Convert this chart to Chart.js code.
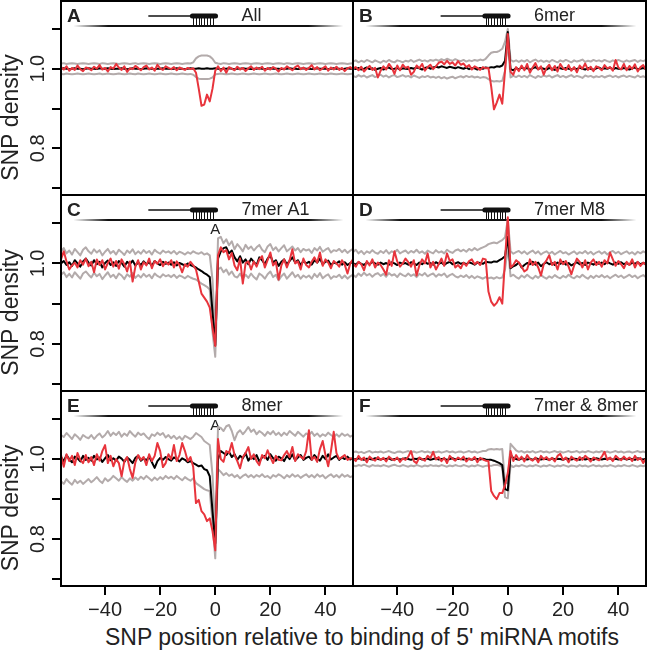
<!DOCTYPE html>
<html>
<head>
<meta charset="utf-8">
<script src="https://cdn.jsdelivr.net/npm/chart.js@4.4.1/dist/chart.umd.min.js"></script>
<style>
html, body { margin: 0; padding: 0; background: #fff; }
#wrap { position: relative; width: 648px; height: 650px; overflow: hidden; }
#wrap canvas { position: absolute; left: 0; top: 0; }
#xtitle { position: absolute; left: 76px; width: 572px; top: 623px; text-align: center;
  font: 23px "Liberation Sans", Arial, sans-serif; line-height: 28px; color: #222; white-space: nowrap; }
</style>
</head>
<body>
<div id="wrap"><div id="xtitle">SNP position relative to binding of 5' miRNA motifs</div></div>
<script>
// SNP position relative to the motif (x axis)
const positions = [-56,-55,-54,-53,-52,-51,-50,-49,-48,-47,
  -46,-45,-44,-43,-42,-41,-40,-39,-38,-37,
  -36,-35,-34,-33,-32,-31,-30,-29,-28,-27,
  -26,-25,-24,-23,-22,-21,-20,-19,-18,-17,
  -16,-15,-14,-13,-12,-11,-10,-9,-8,-7,
  -6,-5,-4,-3,-2,-1,0,1,2,3,
  4,5,6,7,8,9,10,11,12,13,
  14,15,16,17,18,19,20,21,22,23,
  24,25,26,27,28,29,30,31,32,33,
  34,35,36,37,38,39,40,41,42,43,
  44,45,46,47,48,49,50];

const panelLetters = ['A', 'B', 'C', 'D', 'E', 'F'];
const panelTitles = ['All', '6mer', '7mer A1', '7mer M8', '8mer', '7mer & 8mer'];
const yTickValues = [0.7, 0.8, 0.9, 1.0, 1.1];
const xTickValues = [-40, -20, 0, 20, 40];

// Panel A: All
const allObs = [1.004,0.998,1.006,0.995,1.002,0.997,1.008,0.999,0.994,1.003,
  1.001,0.996,1.005,1.000,1.009,0.998,1.002,0.993,1.004,1.000,
  1.012,1.003,0.997,1.006,0.992,1.001,0.999,1.007,1.002,0.996,
  1.004,1.008,0.998,1.003,0.995,1.010,1.001,0.997,1.006,1.002,
  0.999,1.004,0.996,1.003,1.000,0.997,1.002,0.999,1.001,0.990,
  0.950,0.907,0.910,0.935,0.918,0.950,0.995,1.006,0.994,1.003,
  0.990,1.004,1.000,0.996,1.005,0.998,1.002,0.994,1.001,1.006,
  0.997,1.003,0.999,1.005,0.995,1.002,0.998,1.004,1.000,0.993,
  1.002,0.998,1.006,1.001,0.996,1.004,1.008,0.999,1.003,0.997,
  1.002,1.009,0.998,1.004,0.996,1.001,1.006,0.995,1.003,0.998,
  1.005,0.997,1.002,0.994,1.001,1.004,0.998];
const allMean = [1.000,1.001,1.000,0.999,1.000,1.001,1.000,1.000,0.999,1.000,
  1.001,1.000,1.000,0.999,1.001,1.000,1.000,1.001,1.000,0.999,
  1.000,1.000,1.001,1.000,0.999,1.000,1.001,1.000,1.000,0.999,
  1.000,1.001,1.000,1.000,0.999,1.000,1.000,1.001,1.000,1.000,
  0.999,1.000,1.001,1.000,1.000,0.999,1.000,1.001,1.000,1.000,
  1.001,1.000,1.000,1.001,1.000,1.000,1.001,1.000,0.999,1.000,
  1.000,1.001,1.000,0.999,1.000,1.000,1.001,1.000,1.000,0.999,
  1.000,1.000,1.001,1.000,0.999,1.000,1.001,1.000,1.000,1.000,
  0.999,1.000,1.000,1.001,1.000,1.000,0.999,1.000,1.001,1.000,
  1.000,0.999,1.000,1.001,1.000,1.000,1.000,0.999,1.000,1.001,
  1.000,1.000,0.999,1.000,1.001,1.000,1.000];
const allUpper = [1.013,1.014,1.012,1.013,1.014,1.013,1.012,1.013,1.014,1.013,
  1.012,1.013,1.014,1.013,1.012,1.014,1.013,1.012,1.013,1.014,
  1.013,1.012,1.013,1.014,1.013,1.012,1.013,1.014,1.012,1.013,
  1.014,1.013,1.012,1.013,1.014,1.013,1.012,1.013,1.014,1.013,
  1.012,1.013,1.014,1.013,1.012,1.013,1.014,1.013,1.016,1.026,
  1.031,1.033,1.033,1.033,1.031,1.025,1.015,1.013,1.012,1.014,
  1.013,1.012,1.013,1.014,1.013,1.012,1.013,1.014,1.013,1.012,
  1.013,1.014,1.013,1.012,1.013,1.014,1.013,1.012,1.013,1.014,
  1.013,1.012,1.014,1.013,1.012,1.013,1.014,1.013,1.012,1.013,
  1.014,1.013,1.012,1.013,1.014,1.013,1.012,1.013,1.014,1.013,
  1.012,1.013,1.014,1.013,1.012,1.013,1.014];
const allLower = [0.987,0.986,0.988,0.987,0.986,0.987,0.988,0.987,0.986,0.987,
  0.988,0.987,0.986,0.987,0.988,0.986,0.987,0.988,0.987,0.986,
  0.987,0.988,0.987,0.986,0.987,0.988,0.987,0.986,0.988,0.987,
  0.986,0.987,0.988,0.987,0.986,0.987,0.988,0.987,0.986,0.987,
  0.988,0.987,0.986,0.987,0.988,0.987,0.986,0.987,0.985,0.979,
  0.975,0.974,0.974,0.974,0.975,0.978,0.986,0.987,0.988,0.987,
  0.986,0.987,0.988,0.987,0.986,0.987,0.988,0.987,0.986,0.987,
  0.988,0.987,0.986,0.987,0.988,0.987,0.986,0.987,0.988,0.987,
  0.986,0.987,0.988,0.987,0.986,0.987,0.988,0.987,0.986,0.987,
  0.988,0.987,0.986,0.987,0.988,0.987,0.986,0.987,0.988,0.987,
  0.986,0.987,0.988,0.987,0.986,0.987,0.988];

// Panel B: 6mer
const sixObs = [1.000,1.004,0.996,1.005,0.993,1.001,1.007,0.997,1.002,0.978,
  0.995,1.006,0.998,1.012,1.003,0.987,1.008,0.996,1.010,1.002,
  1.005,0.985,0.992,1.008,1.001,1.012,0.995,1.004,1.010,0.999,
  1.006,1.015,1.018,1.011,1.020,1.012,1.016,1.008,1.019,1.010,
  1.013,1.004,1.009,0.998,1.006,1.002,0.997,1.004,1.001,1.002,
  0.955,0.898,0.915,0.935,0.912,0.995,1.087,0.992,0.985,1.004,
  0.994,1.008,0.996,1.012,0.990,1.003,1.014,0.998,1.006,0.985,
  1.002,1.010,0.996,1.007,0.993,1.012,1.001,0.997,1.009,0.995,
  1.004,0.991,1.008,1.000,1.013,0.997,1.005,0.994,1.006,1.002,
  0.996,1.009,1.001,1.004,0.995,1.022,1.003,0.998,1.012,0.996,
  1.007,0.999,1.011,0.993,1.004,1.009,0.997];
const sixMean = [1.001,0.999,1.002,0.998,1.000,1.003,0.999,1.001,0.997,1.000,
  1.002,0.998,1.001,1.003,0.999,1.000,1.002,0.998,1.001,1.000,
  0.999,1.002,1.000,1.003,1.001,0.998,1.002,1.004,1.000,1.003,
  1.005,1.003,1.006,1.004,1.002,1.005,1.003,1.001,1.004,1.002,
  1.000,1.003,0.999,1.002,1.001,0.998,1.002,1.000,1.003,1.002,
  1.004,1.003,1.006,1.005,1.008,1.020,1.092,0.999,0.996,1.002,
  0.998,1.003,1.000,1.002,0.997,1.001,1.004,0.999,1.002,1.000,
  0.998,1.002,1.000,0.997,1.003,1.001,0.999,1.002,1.000,0.998,
  1.001,0.999,1.003,1.000,0.998,1.002,1.000,0.997,1.001,1.003,
  0.999,1.001,1.000,1.003,0.998,1.002,1.000,0.999,1.002,1.000,
  0.998,1.001,1.003,0.999,1.000,1.002,0.999];
const sixUpper = [1.018,1.021,1.016,1.020,1.017,1.022,1.019,1.016,1.021,1.018,
  1.015,1.020,1.017,1.022,1.018,1.016,1.021,1.019,1.016,1.020,
  1.018,1.022,1.017,1.020,1.023,1.019,1.021,1.018,1.022,1.020,
  1.023,1.020,1.024,1.021,1.025,1.022,1.020,1.024,1.021,1.019,
  1.022,1.018,1.021,1.019,1.022,1.020,1.023,1.021,1.025,1.033,
  1.040,1.042,1.042,1.045,1.050,1.068,1.100,1.022,1.018,1.021,
  1.017,1.021,1.018,1.022,1.016,1.020,1.023,1.018,1.021,1.017,
  1.020,1.017,1.022,1.019,1.016,1.021,1.018,1.022,1.019,1.016,
  1.021,1.018,1.020,1.023,1.017,1.020,1.018,1.022,1.019,1.021,
  1.018,1.022,1.019,1.017,1.021,1.018,1.022,1.019,1.017,1.021,
  1.018,1.020,1.022,1.017,1.021,1.019,1.022];
const sixLower = [0.982,0.979,0.984,0.980,0.983,0.978,0.981,0.984,0.979,0.982,
  0.985,0.980,0.983,0.978,0.982,0.984,0.979,0.981,0.984,0.980,
  0.982,0.978,0.983,0.980,0.977,0.981,0.979,0.982,0.978,0.980,
  0.977,0.980,0.976,0.979,0.975,0.978,0.980,0.976,0.979,0.981,
  0.978,0.982,0.979,0.981,0.978,0.980,0.977,0.979,0.978,0.974,
  0.970,0.968,0.969,0.968,0.970,0.995,1.070,0.978,0.982,0.979,
  0.983,0.979,0.982,0.978,0.984,0.980,0.977,0.982,0.979,0.983,
  0.980,0.983,0.978,0.981,0.984,0.979,0.982,0.978,0.981,0.984,
  0.979,0.982,0.980,0.977,0.983,0.980,0.982,0.978,0.981,0.979,
  0.982,0.978,0.981,0.983,0.979,0.982,0.978,0.981,0.983,0.979,
  0.982,0.980,0.978,0.983,0.979,0.981,0.978];

// Panel C: 7mer A1
const a1Obs = [1.010,1.030,1.005,0.985,0.995,1.002,0.990,1.008,0.997,1.012,
  0.993,1.004,0.978,1.010,0.996,1.008,0.985,1.001,1.012,0.992,
  1.006,0.987,1.010,0.998,0.980,1.005,0.955,0.992,1.008,0.985,
  1.003,0.995,1.012,0.988,1.006,0.999,1.010,0.993,1.004,0.997,
  1.008,0.990,1.005,0.996,0.978,0.998,0.992,1.004,0.995,0.985,
  0.955,0.925,0.915,0.905,0.890,0.840,0.795,1.020,1.040,1.028,
  1.033,1.010,1.026,0.995,0.983,1.012,0.950,1.000,1.005,0.985,
  1.005,0.992,1.010,1.018,0.990,1.008,1.027,0.995,1.004,0.960,
  0.995,1.010,0.990,1.008,1.035,1.000,1.005,0.985,1.012,0.996,
  0.990,1.004,1.015,1.002,1.027,0.994,1.010,1.002,0.988,1.006,
  1.000,0.992,1.008,0.997,0.975,1.000,1.010];
const a1Mean = [1.000,1.006,0.996,1.003,0.994,1.008,1.000,0.992,1.005,1.012,
  1.002,0.995,1.008,0.998,1.004,0.990,1.001,1.007,0.996,1.003,
  0.994,1.006,1.001,0.992,1.004,0.998,1.007,0.995,1.002,0.996,
  1.005,0.998,1.003,0.994,1.006,1.000,0.996,1.004,0.999,1.002,
  0.997,1.003,0.995,1.001,0.998,0.994,1.000,0.996,0.993,0.990,
  0.985,0.981,0.976,0.972,0.966,0.880,0.797,1.012,1.030,1.038,
  1.040,1.025,1.032,1.015,1.005,1.018,1.002,1.010,0.998,1.012,
  1.004,0.996,1.015,1.008,0.998,1.012,1.020,1.002,1.008,0.994,
  1.004,1.010,0.998,1.006,1.015,1.002,1.008,0.996,1.006,1.000,
  1.004,0.997,1.008,1.002,1.012,0.998,1.004,1.007,0.996,1.002,
  1.000,1.005,0.997,1.003,0.996,1.001,1.004];
const a1Upper = [1.030,1.038,1.025,1.032,1.022,1.036,1.028,1.020,1.034,1.040,
  1.030,1.024,1.035,1.027,1.033,1.020,1.029,1.036,1.025,1.031,
  1.022,1.034,1.028,1.021,1.032,1.026,1.035,1.023,1.030,1.024,
  1.033,1.026,1.031,1.022,1.034,1.028,1.024,1.032,1.027,1.030,
  1.025,1.031,1.023,1.029,1.026,1.022,1.028,1.024,1.030,1.026,
  1.024,1.028,1.022,1.025,1.020,0.960,0.820,1.062,1.066,1.050,
  1.060,1.045,1.055,1.035,1.048,1.040,1.030,1.046,1.036,1.042,
  1.032,1.040,1.046,1.034,1.028,1.042,1.048,1.033,1.040,1.030,
  1.038,1.045,1.030,1.036,1.042,1.032,1.038,1.028,1.036,1.032,
  1.035,1.026,1.038,1.032,1.041,1.029,1.034,1.038,1.027,1.033,
  1.031,1.036,1.028,1.034,1.026,1.032,1.036];
const a1Lower = [0.972,0.978,0.966,0.974,0.965,0.978,0.970,0.962,0.975,0.980,
  0.972,0.965,0.977,0.968,0.974,0.961,0.970,0.978,0.966,0.972,
  0.963,0.975,0.970,0.961,0.973,0.967,0.976,0.964,0.971,0.965,
  0.974,0.967,0.972,0.963,0.975,0.969,0.965,0.973,0.968,0.971,
  0.966,0.972,0.964,0.970,0.967,0.963,0.969,0.965,0.962,0.960,
  0.955,0.950,0.946,0.942,0.935,0.830,0.768,0.985,0.990,0.978,
  0.985,0.972,0.980,0.968,0.965,0.975,0.962,0.972,0.964,0.975,
  0.966,0.960,0.975,0.970,0.962,0.973,0.980,0.966,0.972,0.958,
  0.968,0.975,0.962,0.970,0.978,0.966,0.972,0.962,0.970,0.965,
  0.970,0.962,0.974,0.966,0.976,0.963,0.969,0.973,0.962,0.968,
  0.966,0.972,0.963,0.970,0.962,0.968,0.972];

// Panel D: 7mer M8
const m8Obs = [1.000,0.992,1.004,0.998,0.983,1.006,0.995,1.010,0.990,1.002,
  0.996,0.985,0.972,1.008,0.994,1.030,1.005,0.992,1.000,1.012,
  1.003,0.992,1.008,0.970,0.995,1.010,1.000,1.025,0.990,1.004,
  0.985,0.998,1.012,0.994,1.025,1.006,1.010,0.990,0.996,0.988,
  1.002,0.994,1.006,1.010,0.998,1.004,0.996,1.012,1.010,0.930,
  0.905,0.895,0.902,0.916,0.900,1.010,1.115,0.990,0.996,1.008,
  1.002,0.992,0.980,0.985,1.010,0.996,1.004,0.990,0.970,0.998,
  1.008,1.020,0.996,1.004,0.985,1.010,0.998,1.006,0.992,0.973,
  0.995,1.012,1.004,0.990,1.008,0.985,1.002,1.010,0.996,1.004,
  0.992,1.008,1.000,1.027,1.010,0.994,1.006,0.998,0.988,1.004,
  0.996,1.010,0.990,1.004,0.994,1.002,0.996];
const m8Mean = [1.001,0.997,1.003,0.999,0.996,1.002,0.998,1.004,1.000,0.997,
  1.002,0.998,1.001,0.997,1.003,1.000,0.996,1.002,0.999,1.001,
  0.997,1.003,1.000,0.996,1.002,0.998,1.004,0.999,1.001,0.997,
  1.003,0.999,1.002,0.996,1.001,1.004,0.998,1.000,1.003,0.999,
  1.001,0.998,1.003,1.000,0.997,1.002,1.001,0.999,1.004,1.003,
  1.002,1.005,1.004,1.008,1.012,1.018,1.066,0.988,0.993,0.996,
  1.002,0.990,0.996,1.001,0.998,1.004,0.997,1.002,0.993,0.999,
  1.003,0.998,1.001,0.996,1.002,0.999,1.004,0.997,1.001,0.995,
  0.999,1.003,0.998,1.001,0.996,1.002,1.000,0.997,1.003,0.999,
  1.002,0.998,1.004,1.000,0.997,1.002,0.999,1.003,0.998,1.001,
  0.997,1.002,0.999,1.003,0.998,1.001,0.999];
const m8Upper = [1.028,1.034,1.025,1.031,1.023,1.030,1.026,1.033,1.027,1.024,
  1.031,1.026,1.033,1.024,1.030,1.027,1.034,1.025,1.029,1.032,
  1.025,1.031,1.027,1.034,1.026,1.030,1.024,1.032,1.028,1.025,
  1.033,1.027,1.030,1.025,1.034,1.029,1.026,1.032,1.035,1.030,
  1.034,1.029,1.036,1.032,1.038,1.033,1.037,1.040,1.043,1.048,
  1.050,1.052,1.050,1.054,1.058,1.065,1.110,1.030,1.024,1.028,
  1.031,1.025,1.030,1.023,1.028,1.032,1.025,1.030,1.022,1.027,
  1.030,1.024,1.029,1.022,1.027,1.031,1.025,1.028,1.022,1.026,
  1.030,1.023,1.028,1.025,1.031,1.024,1.029,1.022,1.027,1.030,
  1.024,1.029,1.022,1.028,1.031,1.025,1.029,1.023,1.027,1.030,
  1.024,1.028,1.022,1.029,1.025,1.030,1.026];
const m8Lower = [0.972,0.966,0.975,0.969,0.977,0.970,0.974,0.967,0.973,0.976,
  0.969,0.974,0.967,0.976,0.970,0.973,0.966,0.975,0.971,0.968,
  0.975,0.969,0.973,0.966,0.974,0.970,0.976,0.968,0.972,0.975,
  0.967,0.973,0.970,0.975,0.966,0.971,0.974,0.968,0.965,0.970,
  0.966,0.971,0.964,0.969,0.963,0.968,0.965,0.962,0.966,0.963,
  0.965,0.962,0.966,0.963,0.965,0.985,1.040,0.968,0.972,0.966,
  0.962,0.970,0.965,0.972,0.966,0.962,0.969,0.964,0.971,0.966,
  0.962,0.968,0.964,0.971,0.966,0.963,0.969,0.965,0.972,0.966,
  0.963,0.969,0.965,0.972,0.966,0.962,0.969,0.964,0.970,0.966,
  0.971,0.965,0.969,0.963,0.968,0.972,0.966,0.970,0.964,0.968,
  0.972,0.966,0.970,0.963,0.968,0.971,0.966];

// Panel E: 8mer
const e8Obs = [1.010,0.981,1.012,0.995,1.008,0.985,1.015,0.998,0.990,1.010,
  0.992,1.005,0.985,1.012,0.996,1.020,1.035,0.990,1.008,0.982,
  1.000,0.990,0.957,0.995,1.005,0.975,0.953,0.992,1.010,0.998,
  1.005,0.985,1.012,0.995,1.008,1.040,1.020,0.980,0.990,1.012,
  1.000,1.035,0.995,1.010,1.040,1.020,0.995,1.005,0.980,0.890,
  0.898,0.870,0.862,0.845,0.852,0.820,0.772,1.050,1.000,0.993,
  1.020,1.015,1.040,1.010,0.995,0.977,1.005,1.015,1.030,1.000,
  1.012,0.995,0.985,1.010,1.002,1.022,1.005,0.990,1.008,0.998,
  0.997,1.010,1.020,1.005,1.030,0.995,1.012,1.006,1.000,1.020,
  1.072,0.998,1.005,0.993,1.025,1.045,1.010,0.982,1.020,1.068,
  1.015,1.000,1.005,1.010,0.998,1.002,1.000];
const e8Mean = [1.005,0.995,1.010,1.000,0.992,1.006,1.002,0.994,1.008,0.998,
  1.003,0.996,1.008,0.999,1.004,0.993,1.002,1.010,0.997,1.002,
  0.996,1.006,1.001,0.993,1.004,0.998,0.990,1.003,1.008,0.996,
  1.002,0.997,1.006,0.992,0.978,0.995,1.003,0.998,1.005,1.000,
  0.996,1.004,1.000,0.994,1.002,0.998,0.992,0.995,0.990,0.986,
  0.982,0.984,0.975,0.972,0.957,0.870,0.790,1.000,1.020,1.015,
  1.010,1.018,1.005,1.012,0.998,1.008,1.002,1.015,0.996,1.006,
  1.000,1.010,0.994,1.004,1.008,0.998,1.012,1.002,0.996,1.006,
  1.002,0.995,1.008,1.000,1.012,0.997,1.004,1.010,0.998,1.003,
  1.006,0.998,1.010,1.002,0.996,1.008,1.000,1.012,0.999,1.004,
  1.008,0.998,1.004,1.000,1.006,0.999,1.002];
const e8Upper = [1.060,1.055,1.065,1.058,1.050,1.062,1.056,1.048,1.060,1.055,
  1.052,1.060,1.050,1.058,1.064,1.054,1.060,1.070,1.058,1.066,
  1.060,1.068,1.056,1.064,1.058,1.070,1.062,1.056,1.066,1.060,
  1.064,1.056,1.050,1.062,1.058,1.066,1.060,1.065,1.054,1.060,
  1.052,1.058,1.050,1.056,1.048,1.058,1.054,1.050,1.056,1.065,
  1.060,1.055,1.045,1.040,1.035,0.960,0.820,1.080,1.078,1.070,
  1.082,1.085,1.070,1.047,1.065,1.072,1.062,1.070,1.080,1.068,
  1.074,1.062,1.070,1.065,1.058,1.068,1.062,1.070,1.060,1.066,
  1.058,1.066,1.060,1.070,1.064,1.058,1.068,1.062,1.056,1.064,
  1.060,1.068,1.058,1.064,1.056,1.062,1.058,1.066,1.060,1.055,
  1.062,1.056,1.064,1.058,1.062,1.056,1.060];
const e8Lower = [0.945,0.938,0.950,0.942,0.936,0.948,0.940,0.946,0.938,0.944,
  0.950,0.942,0.948,0.955,0.946,0.940,0.952,0.945,0.950,0.958,
  0.952,0.946,0.955,0.948,0.943,0.952,0.946,0.954,0.948,0.956,
  0.950,0.958,0.952,0.946,0.954,0.948,0.955,0.950,0.958,0.952,
  0.956,0.950,0.958,0.952,0.947,0.955,0.950,0.946,0.952,0.940,
  0.935,0.930,0.925,0.922,0.920,0.840,0.752,0.975,0.968,0.960,
  0.965,0.958,0.962,0.955,0.960,0.952,0.958,0.962,0.955,0.960,
  0.954,0.960,0.956,0.962,0.955,0.958,0.952,0.960,0.956,0.962,
  0.958,0.952,0.960,0.955,0.962,0.956,0.960,0.953,0.958,0.962,
  0.955,0.960,0.954,0.962,0.956,0.960,0.952,0.958,0.962,0.955,
  0.960,0.954,0.962,0.956,0.960,0.955,0.958];

// Panel F: 7mer & 8mer
const bothObs = [1.002,0.995,1.008,0.998,1.004,0.992,1.006,1.000,0.996,1.005,
  0.998,1.003,0.994,1.006,1.000,0.997,1.004,0.993,1.002,0.998,
  1.006,1.020,0.995,0.990,1.004,1.000,0.996,1.008,1.002,1.018,
  0.999,1.005,0.995,1.003,0.990,1.008,1.001,0.996,1.004,0.999,
  1.006,0.994,1.002,0.998,1.005,0.992,1.003,0.999,0.996,0.995,
  0.920,0.908,0.900,0.915,0.915,0.935,0.965,1.020,0.995,1.010,
  0.998,1.006,0.994,1.010,1.000,0.996,1.004,0.992,1.008,0.999,
  1.005,0.997,1.003,0.994,1.008,1.013,0.998,1.004,0.992,1.006,
  1.000,0.996,1.005,0.998,1.008,1.002,0.994,1.004,1.000,0.997,
  1.006,1.018,0.998,1.004,0.995,1.008,1.002,0.997,1.006,0.999,
  1.004,0.995,1.008,0.998,1.003,0.990,1.002];
const bothMean = [1.001,0.999,1.002,1.000,0.998,1.001,1.000,0.999,1.002,1.000,
  0.999,1.001,1.000,1.002,0.998,1.000,1.001,0.999,1.000,1.002,
  1.000,0.998,1.001,1.000,1.002,0.999,1.000,1.001,0.998,1.000,
  1.002,0.999,1.000,1.001,0.998,1.000,1.002,0.999,1.001,1.000,
  0.999,1.001,1.000,0.998,1.001,1.000,0.999,1.001,0.999,0.998,
  0.998,0.996,0.993,0.990,0.985,0.925,0.922,1.010,1.003,1.000,
  0.998,1.002,1.000,0.999,1.001,0.998,1.002,1.000,0.999,1.001,
  1.000,0.998,1.002,0.999,1.001,1.000,0.998,1.002,1.000,0.999,
  1.001,1.000,0.998,1.002,0.999,1.001,1.000,0.998,1.002,1.000,
  0.999,1.001,1.000,1.002,0.998,1.001,0.999,1.000,1.002,0.999,
  1.001,1.000,0.998,1.002,1.000,0.999,1.001];
const bothUpper = [1.017,1.019,1.016,1.018,1.015,1.018,1.020,1.016,1.018,1.017,
  1.019,1.016,1.018,1.020,1.017,1.015,1.018,1.019,1.016,1.018,
  1.020,1.017,1.019,1.016,1.018,1.020,1.017,1.019,1.016,1.018,
  1.017,1.019,1.016,1.018,1.020,1.017,1.019,1.016,1.018,1.019,
  1.016,1.018,1.020,1.017,1.019,1.016,1.018,1.020,1.020,1.024,
  1.025,1.024,1.025,1.024,1.025,0.940,0.940,1.038,1.030,1.022,
  1.018,1.020,1.016,1.019,1.017,1.020,1.016,1.018,1.020,1.017,
  1.019,1.016,1.018,1.020,1.017,1.019,1.016,1.018,1.020,1.017,
  1.018,1.020,1.016,1.019,1.017,1.020,1.018,1.016,1.019,1.017,
  1.020,1.017,1.019,1.016,1.018,1.020,1.017,1.019,1.016,1.018,
  1.019,1.016,1.018,1.020,1.017,1.019,1.016];
const bothLower = [0.984,0.982,0.985,0.983,0.986,0.983,0.981,0.985,0.983,0.984,
  0.982,0.985,0.983,0.981,0.984,0.986,0.983,0.982,0.985,0.983,
  0.981,0.984,0.982,0.985,0.983,0.981,0.984,0.982,0.985,0.983,
  0.984,0.982,0.985,0.983,0.981,0.984,0.982,0.985,0.983,0.982,
  0.985,0.983,0.981,0.984,0.982,0.985,0.983,0.981,0.983,0.984,
  0.983,0.985,0.986,0.984,0.980,0.905,0.902,0.985,0.980,0.984,
  0.982,0.985,0.983,0.981,0.984,0.982,0.985,0.983,0.981,0.984,
  0.982,0.985,0.983,0.981,0.984,0.982,0.985,0.983,0.981,0.984,
  0.983,0.981,0.985,0.982,0.984,0.981,0.983,0.985,0.982,0.984,
  0.981,0.984,0.982,0.985,0.983,0.981,0.984,0.982,0.985,0.983,
  0.982,0.985,0.983,0.981,0.984,0.982,0.985];

const panelSeries = [
  [allObs, allMean, allUpper, allLower],
  [sixObs, sixMean, sixUpper, sixLower],
  [a1Obs, a1Mean, a1Upper, a1Lower],
  [m8Obs, m8Mean, m8Upper, m8Lower],
  [e8Obs, e8Mean, e8Upper, e8Lower],
  [bothObs, bothMean, bothUpper, bothLower]
];

const RED = '#e8343c';
const GRAY = '#b3abab';
const TEXT = '#222';
const FONT = '"Liberation Sans", Arial, Helvetica, sans-serif';
Chart.defaults.font.family = FONT;

const rowTop = [1, 195, 391];
const rowBottom = [195, 391, 586];
const seedComb = [-8, -7, -6, -5, -4, -3, -2, -1];

// black border round each panel
const framePlugin = {
  id: 'frame',
  afterDatasetsDraw(chart) {
    const {ctx, chartArea: a} = chart;
    ctx.save();
    ctx.strokeStyle = '#000';
    ctx.lineWidth = 2;
    ctx.strokeRect(a.left, a.top, a.right - a.left, a.bottom - a.top);
    ctx.restore();
  }
};

// letter, miRNA/mRNA cartoon and motif name at the top of each panel
const schematicPlugin = {
  id: 'schematic',
  beforeDatasetsDraw(chart, args, opts) {
    const {ctx, chartArea: a} = chart;
    const x = chart.scales.x;
    const yLine = a.top + 25, yBar = a.top + 15;
    ctx.save();
    ctx.fillStyle = '#111';
    ctx.strokeStyle = '#111';

    const x0 = x.getPixelForValue(-51.5), x1 = x.getPixelForValue(46.5);
    ctx.beginPath();
    ctx.moveTo(x0, yLine);
    ctx.lineTo(x0 + 35, yLine - 1.1);
    ctx.lineTo(x1 - 35, yLine - 1.1);
    ctx.lineTo(x1, yLine);
    ctx.lineTo(x1 - 35, yLine + 1.1);
    ctx.lineTo(x0 + 35, yLine + 1.1);
    ctx.closePath();
    ctx.fill();

    ctx.lineWidth = 1.4;
    ctx.beginPath();
    ctx.moveTo(x.getPixelForValue(-24.3), yBar);
    ctx.lineTo(x.getPixelForValue(-8.5), yBar);
    ctx.stroke();

    ctx.lineWidth = 5;
    ctx.lineCap = 'round';
    ctx.beginPath();
    ctx.moveTo(x.getPixelForValue(-8.3), yBar);
    ctx.lineTo(x.getPixelForValue(0.1), yBar);
    ctx.stroke();

    ctx.lineWidth = 1;
    ctx.lineCap = 'butt';
    seedComb.forEach(p => {
      const px = Math.round(x.getPixelForValue(p)) + 0.5;
      ctx.beginPath();
      ctx.moveTo(px, yBar);
      ctx.lineTo(px, yLine);
      ctx.stroke();
    });

    ctx.fillStyle = TEXT;
    ctx.textBaseline = 'middle';
    ctx.textAlign = 'left';
    ctx.font = '18px ' + FONT;
    ctx.fillText(opts.title, x.getPixelForValue(9.5), a.top + 15);
    ctx.font = 'bold 19px ' + FONT;
    ctx.fillText(opts.letter, a.left + 6, a.top + 16);
    if (opts.anchor) {
      ctx.textAlign = 'center';
      ctx.font = '15px ' + FONT;
      ctx.fillText('A', x.getPixelForValue(0), a.top + 35);
    }
    ctx.restore();
  }
};

function lineSet(values, color, width) {
  return {
    data: positions.map((p, i) => ({x: p, y: values[i]})),
    borderColor: color,
    borderWidth: width,
    borderJoinStyle: 'round',
    pointRadius: 0,
    tension: 0,
    fill: false
  };
}

function makePanel(idx) {
  const col = idx % 2;
  const row = Math.floor(idx / 2);
  const [obs, mean, upper, lower] = panelSeries[idx];

  const canvas = document.createElement('canvas');
  canvas.width = 648;
  canvas.height = 650;
  document.getElementById('wrap').appendChild(canvas);

  new Chart(canvas, {
    type: 'line',
    data: {
      datasets: [
        lineSet(obs, RED, 2),
        lineSet(mean, '#000', 2),
        lineSet(upper, GRAY, 2),
        lineSet(lower, GRAY, 2)
      ]
    },
    options: {
      responsive: false,
      animation: false,
      layout: {
        padding: {
          left: col === 0 ? 0 : 353,
          right: col === 0 ? 295 : 2,
          top: rowTop[row],
          bottom: row === 2 ? 0 : 650 - rowBottom[row]
        }
      },
      plugins: {
        legend: {display: false},
        tooltip: {enabled: false},
        schematic: {
          letter: panelLetters[idx],
          title: panelTitles[idx],
          anchor: idx === 2 || idx === 4
        }
      },
      scales: {
        x: {
          type: 'linear',
          min: -56,
          max: 50,
          display: row === 2,
          afterBuildTicks: s => { s.ticks = xTickValues.map(v => ({value: v})); },
          afterFit: s => {
            if (!s.options.display) return;
            s.height = 64; s.paddingLeft = 0; s.paddingRight = 0;
          },
          grid: {drawOnChartArea: false, drawTicks: true, tickLength: 9, lineWidth: 2, color: '#000'},
          border: {display: false},
          ticks: {
            autoSkip: false,
            maxRotation: 0,
            padding: 3,
            color: TEXT,
            font: {size: 20},
            callback: v => v < 0 ? '\u2212' + Math.abs(v) : String(v)
          }
        },
        y: {
          type: 'linear',
          min: 0.683,
          max: 1.17,
          display: col === 0,
          afterBuildTicks: s => { s.ticks = yTickValues.map(v => ({value: v})); },
          afterFit: s => {
            if (!s.options.display) return;
            s.width = 61; s.paddingTop = 0; s.paddingBottom = 0;
          },
          grid: {drawOnChartArea: false, drawTicks: true, tickLength: 9, lineWidth: 2, color: '#000'},
          border: {display: false},
          ticks: {
            minRotation: 90,
            maxRotation: 90,
            crossAlign: 'center',
            padding: 0,
            color: TEXT,
            font: {size: 20},
            callback: v => {
              const k = Math.round(v * 10);
              return k === 8 ? '0.8' : (k === 10 ? '1.0' : '');
            }
          },
          title: {
            display: true,
            text: 'SNP density\u2003\u2002\u2009',
            color: TEXT,
            padding: 0,
            font: {size: 23, lineHeight: 1.0}
          }
        }
      }
    },
    plugins: [schematicPlugin, framePlugin]
  });
}

for (let i = 0; i < 6; i++) makePanel(i);
</script>
</body>
</html>
